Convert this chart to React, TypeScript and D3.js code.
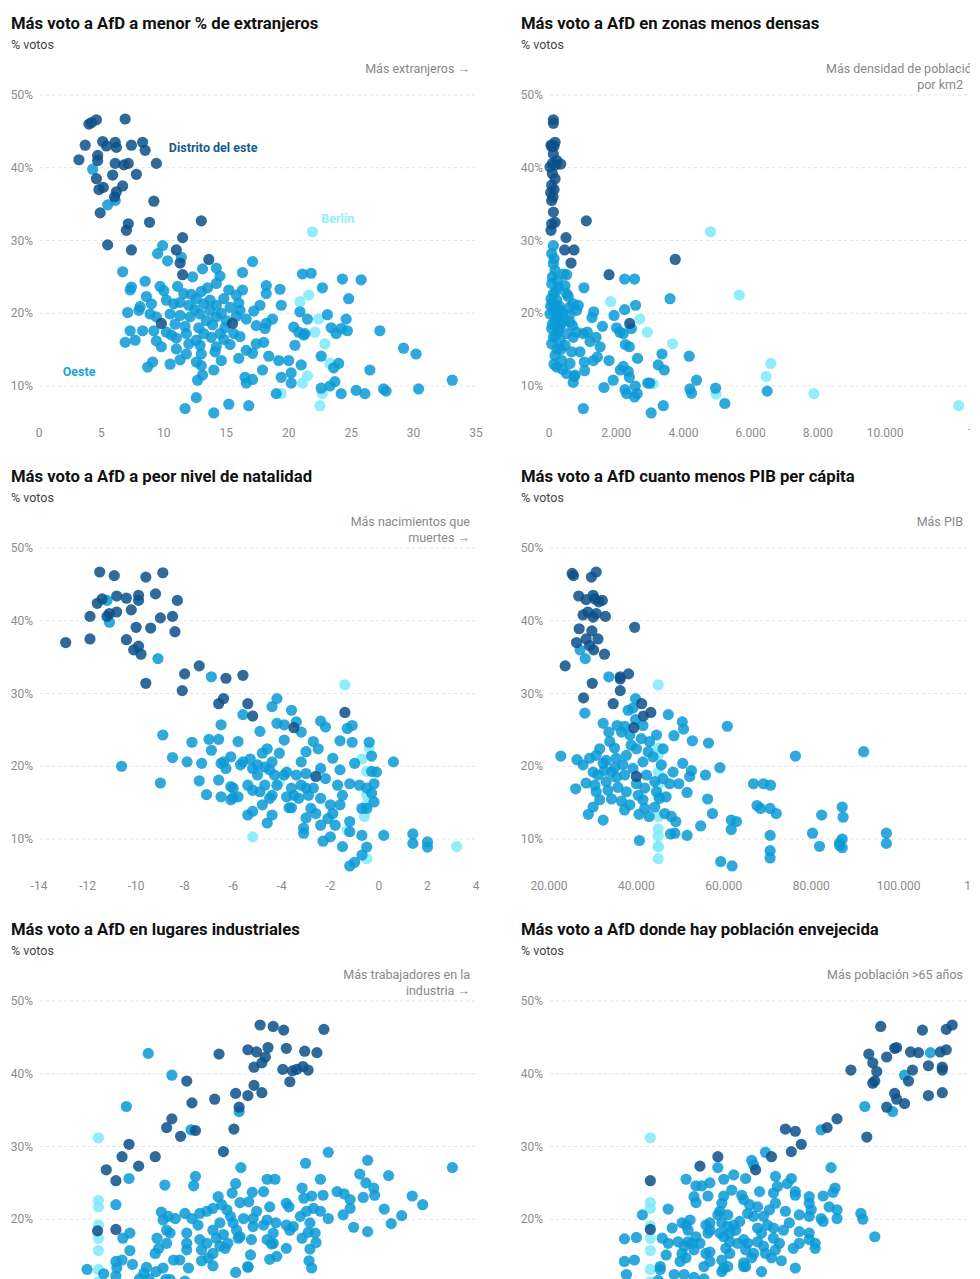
import React from "react";
import * as d3 from "d3";

// ---------- DATA ----------
const yTicks = [10, 20, 30, 40, 50];

const titles = [
  "Más voto a AfD a menor % de extranjeros",
  "Más voto a AfD en zonas menos densas",
  "Más voto a AfD a peor nivel de natalidad",
  "Más voto a AfD cuanto menos PIB per cápita",
  "Más voto a AfD en lugares industriales",
  "Más voto a AfD donde hay población envejecida",
];

const notes = [
  ["Más extranjeros →"],
  ["Más densidad de población", "por km2"],
  ["Más nacimientos que", "muertes →"],
  ["Más PIB"],
  ["Más trabajadores en la", "industria →"],
  ["Más población >65 años"],
];

const p1Ticks = [0, 5, 10, 15, 20, 25, 30, 35];
const p2Ticks = [0, 2000, 4000, 6000, 8000, 10000, 13000];
const p3Ticks = [-14, -12, -10, -8, -6, -4, -2, 0, 2, 4];
const p4Ticks = [20000, 40000, 60000, 80000, 100000, 120000];

// Panel 1: % extranjeros
const p1East = [[4.0,46.0],[4.2,46.2],[4.6,46.6],[6.9,46.7],[3.7,43.1],[3.2,41.1],[5.1,43.6],[5.4,43.0],[6.1,43.5],[6.2,42.8],[7.4,43.1],[8.3,43.5],[8.5,42.4],[4.7,41.7],[4.7,41.0],[6.1,40.6],[6.8,40.4],[7.15,40.6],[9.4,40.6],[4.6,38.5],[5.9,39.0],[7.8,39.1],[5.15,37.3],[4.8,37.0],[6.7,37.5],[6.2,36.7],[6.05,36.0],[9.2,35.4],[4.9,33.8],[7.15,32.3],[7.0,31.4],[8.85,32.5],[13.0,32.7],[5.5,29.4],[7.4,28.7],[11.5,30.4],[11.0,28.7],[11.3,26.9],[13.6,27.4],[11.5,25.3],[9.8,18.6],[15.5,18.6]];
const p1West = [[4.3,39.8],[5.5,34.9],[6.1,35.5],[6.7,25.7],[9.9,29.3],[9.5,28.2],[10.3,27.2],[11.4,27.7],[17.1,27.1],[8.5,24.4],[7.3,23.2],[7.4,23.6],[9.7,23.7],[10.0,23.1],[11.1,23.7],[8.6,22.3],[11.6,22.7],[12.3,25.0],[13.1,26.1],[14.2,26.2],[14.5,25.1],[14.2,24.1],[13.5,23.5],[15.2,23.2],[16.3,25.6],[16.3,23.2],[15.8,22.5],[18.2,23.8],[18.2,22.7],[19.3,23.3],[19.4,21.1],[17.7,21.1],[17.2,20.3],[16.0,21.4],[8.1,20.9],[8.0,20.4],[7.1,20.1],[9.0,21.3],[8.9,19.9],[9.4,19.5],[10.2,21.8],[10.8,21.3],[11.3,21.5],[12.0,21.1],[12.6,22.0],[13.2,21.3],[13.7,21.8],[14.2,21.1],[14.8,22.0],[15.3,20.8],[13.7,20.4],[12.9,19.9],[12.1,19.5],[11.3,19.7],[10.5,19.9],[14.2,19.5],[15.0,19.0],[16.1,20.4],[16.6,19.2],[17.4,18.3],[18.2,18.6],[18.7,19.2],[18.1,17.9],[7.3,17.6],[8.3,17.6],[7.7,16.3],[6.9,16.0],[9.2,17.6],[9.4,16.2],[9.8,15.4],[10.2,17.4],[10.6,17.0],[11.0,16.6],[11.0,15.1],[11.8,17.2],[12.0,15.8],[12.6,16.3],[13.2,17.2],[12.9,15.6],[13.8,16.7],[14.2,15.4],[14.5,17.2],[14.8,16.4],[15.6,17.2],[16.1,16.8],[15.3,15.7],[16.6,14.9],[17.4,15.8],[18.0,16.0],[11.8,14.4],[13.0,14.4],[14.1,14.7],[14.6,13.5],[16.0,13.8],[17.1,14.5],[12.6,13.3],[11.3,13.6],[10.5,13.0],[9.1,13.3],[8.7,12.6],[18.4,14.1],[19.2,13.5],[20.0,13.5],[17.9,12.2],[19.4,11.2],[20.2,11.8],[20.2,10.4],[21.0,12.9],[20.4,18.1],[20.8,17.4],[21.2,17.0],[20.5,15.6],[21.3,17.2],[20.9,20.2],[21.5,19.2],[21.1,25.4],[21.8,25.5],[22.7,23.5],[23.1,19.8],[23.4,18.0],[23.8,17.2],[24.2,17.9],[24.6,19.2],[24.7,17.6],[24.8,22.0],[24.3,24.7],[25.8,24.6],[27.3,17.6],[29.2,15.2],[30.2,14.4],[26.5,12.2],[22.6,14.1],[23.6,12.5],[24.0,13.1],[23.7,10.6],[23.3,10.0],[22.6,9.7],[24.2,8.95],[25.4,9.4],[26.1,8.95],[27.6,9.6],[27.8,9.3],[30.4,9.6],[33.1,10.8],[19.0,8.95],[16.6,10.4],[17.1,10.9],[15.2,7.5],[16.8,7.3],[14.0,6.3],[12.6,8.4],[11.7,6.9],[12.7,10.8],[13.1,11.5],[14.0,12.2],[16.5,11.2],[13.0,12.8],[12.5,20.5],[13.4,19.0],[14.6,20.0],[11.7,18.2],[12.8,18.0],[13.9,18.4],[10.9,18.5],[14.9,18.0],[15.8,19.6],[12.2,22.6],[13.0,23.0]];
const p1Berlin = [[21.9,31.2],[21.6,22.5],[20.9,21.6],[22.4,19.2],[22.1,17.4],[22.9,15.8],[23.3,13.1],[21.5,11.4],[21.1,10.4],[22.7,8.95],[22.5,7.3],[19.4,8.95]];

// Panel 2: densidad
const p2East = [[130,46.6],[130,46.1],[180,43.5],[80,42.9],[130,41.9],[230,41.0],[350,40.5],[30,40.1],[100,39.2],[180,38.5],[80,37.6],[50,36.6],[80,35.5],[130,33.9],[80,32.3],[60,31.4],[180,32.5],[1110,32.7],[505,30.4],[465,28.7],[745,28.7],[655,26.9],[1785,25.3],[3755,27.4],[2400,18.6],[150,43.0],[100,40.6],[200,40.4],[60,43.1],[120,36.0],[150,37.0]];
const p2West = [[130,29.3],[80,28.2],[130,26.8],[180,25.9],[430,25.4],[525,25.3],[1040,23.5],[80,24.1],[280,23.6],[475,23.8],[130,22.7],[525,22.7],[230,21.8],[575,22.3],[720,21.3],[870,21.1],[130,20.8],[330,20.4],[30,19.9],[625,19.9],[820,20.4],[180,19.0],[380,18.6],[625,18.8],[80,17.9],[280,17.6],[525,17.2],[820,17.4],[130,16.7],[330,16.3],[720,16.7],[1020,17.2],[80,15.8],[230,15.1],[475,15.6],[675,14.7],[180,14.2],[380,13.5],[625,13.1],[230,12.6],[920,14.7],[1050,13.3],[1320,13.5],[1440,14.0],[1220,16.1],[1400,16.7],[1520,15.4],[1140,17.4],[1330,20.2],[1280,19.4],[1590,18.2],[525,11.7],[775,11.5],[1060,12.1],[720,10.5],[745,11.3],[1020,6.9],[1635,9.8],[1910,10.8],[1785,13.5],[1935,19.7],[2250,24.7],[2545,24.7],[2250,20.5],[2575,21.1],[2010,18.0],[2110,17.4],[2210,17.2],[2450,17.9],[2270,15.7],[2390,15.4],[2635,13.8],[2120,12.2],[2210,12.7],[2360,12.0],[2390,11.2],[2260,9.5],[2310,8.95],[2565,10.0],[2545,8.5],[2625,8.95],[2935,10.4],[3040,6.3],[3250,12.9],[3360,14.4],[3430,12.2],[3400,7.3],[3600,22.0],[4170,14.1],[4190,9.6],[4240,9.0],[4390,10.8],[4955,9.7],[5230,7.6],[6490,9.3],[3000,10.4],[100,21.5],[200,23.0],[60,22.0],[150,20.2],[250,19.5],[100,18.5],[300,18.0],[400,20.0],[50,21.0],[200,17.0],[350,15.0],[150,27.5],[100,25.0],[250,24.5],[300,21.0],[450,19.0],[600,20.8],[700,18.3],[150,13.0],[400,12.3]];
const p2Berlin = [[4805,31.2],[5660,22.5],[1835,21.6],[2700,19.2],[2925,17.4],[3675,15.8],[3100,10.3],[6600,13.1],[6460,11.3],[4965,8.9],[7880,8.95],[12190,7.3]];

// Panel 3: natalidad
const p3East = [[-11.5,46.7],[-10.9,46.2],[-9.6,46.0],[-8.9,46.6],[-11.4,43.0],[-11.6,42.4],[-10.8,43.4],[-10.4,43.1],[-9.9,43.5],[-9.9,42.8],[-9.2,43.7],[-8.3,42.8],[-11.9,40.6],[-11.2,40.6],[-11.1,41.0],[-10.8,41.2],[-10.2,41.5],[-9.0,40.4],[-8.5,40.6],[-10.0,39.1],[-9.4,39.0],[-8.4,38.5],[-12.9,37.0],[-11.9,37.5],[-10.4,37.4],[-10.1,36.0],[-9.9,36.5],[-9.8,35.4],[-9.6,31.4],[-7.4,33.8],[-8.0,32.7],[-8.1,30.4],[-6.3,32.1],[-5.6,32.5],[-6.6,28.6],[-6.4,29.3],[-5.4,28.6],[-5.2,26.9],[-3.5,25.3],[-1.4,27.4],[-2.6,18.6]];
const p3West = [[-11.2,42.8],[-11.1,39.8],[-9.1,34.8],[-6.9,32.3],[-8.9,24.3],[-10.6,20.0],[-9.0,17.7],[-8.5,21.2],[-7.7,23.3],[-7.9,20.6],[-7.4,18.0],[-7.1,16.1],[-7.0,23.7],[-6.9,22.2],[-7.3,20.4],[-6.6,23.7],[-6.5,25.7],[-6.1,21.3],[-6.5,20.4],[-6.6,18.1],[-6.5,15.8],[-6.1,17.2],[-6.1,15.4],[-5.8,23.4],[-5.6,27.1],[-4.9,24.8],[-4.4,28.2],[-4.2,29.3],[-3.6,27.7],[-4.2,25.9],[-3.9,25.7],[-3.4,26.1],[-3.2,24.7],[-2.4,26.2],[-2.2,25.4],[-1.3,25.2],[-1.1,25.6],[-1.6,23.5],[-1.1,23.3],[-0.4,23.3],[-0.3,21.4],[0.6,20.6],[-0.1,19.2],[-0.3,19.3],[-0.2,17.6],[-0.2,15.1],[-0.5,14.2],[-0.7,14.2],[-0.7,10.5],[0.2,10.5],[1.4,10.7],[1.4,9.4],[2.0,9.6],[2.0,8.9],[-1.5,8.95],[-1.2,6.3],[-1.0,6.8],[-0.7,7.8],[-0.5,8.9],[-1.2,12.4],[-1.2,11.0],[-1.2,17.6],[-1.0,20.4],[-1.9,21.1],[-1.6,19.5],[-1.7,17.4],[-1.5,16.0],[-1.6,14.7],[-1.9,13.5],[-2.0,14.7],[-2.1,12.8],[-1.8,11.9],[-2.0,10.3],[-2.3,9.7],[-2.4,11.9],[-2.4,15.6],[-2.6,13.5],[-3.0,12.9],[-3.1,11.5],[-3.1,10.8],[-2.8,14.2],[-2.7,17.0],[-2.2,18.3],[-2.4,19.7],[-2.7,23.4],[-2.5,22.4],[-3.0,22.0],[-3.2,20.6],[-3.0,19.0],[-3.4,18.8],[-3.2,17.4],[-3.0,17.0],[-3.3,15.6],[-3.5,16.0],[-3.8,15.8],[-3.7,14.3],[-3.9,18.8],[-3.8,19.2],[-3.9,23.6],[-4.1,21.8],[-4.4,20.6],[-4.5,19.5],[-4.3,18.8],[-4.2,17.4],[-4.4,16.0],[-4.8,14.7],[-4.4,13.3],[-4.6,12.2],[-4.7,17.4],[-5.0,18.8],[-5.2,19.7],[-5.3,21.0],[-4.8,21.8],[-4.6,22.4],[-5.0,20.2],[-4.7,19.9],[-5.4,17.4],[-5.2,16.7],[-4.9,16.5],[-4.5,15.6],[-5.6,20.6],[-5.7,20.2],[-5.4,13.3],[-5.2,13.8],[-6.0,15.7],[-5.8,15.8],[-6.0,17.0],[-6.3,19.7],[-6.4,20.6],[-3.6,17.0],[-3.6,14.3],[-2.9,16.0],[-0.8,17.4],[-0.5,17.0],[-0.3,16.3]];
const p3Berlin = [[-1.4,31.2],[-5.2,10.3],[-0.5,7.3],[3.2,8.95],[-0.6,13.1],[-0.5,14.7],[-0.5,19.3],[-0.4,22.5],[-1.3,11.2],[-4.1,17.8],[-0.5,16.0],[-0.7,21.0]];

// Panel 4: PIB per cápita
const p4East = [[25300,46.5],[25600,46.2],[29700,46.0],[30800,46.7],[26800,43.4],[28500,42.9],[30100,43.5],[30500,43.0],[31400,42.6],[32200,42.8],[27800,40.8],[28900,41.2],[30100,40.5],[30800,41.0],[32900,40.6],[26900,38.9],[29800,38.6],[39600,39.1],[28500,37.5],[31200,37.5],[29300,36.6],[30200,36.0],[26300,37.0],[32700,35.4],[23700,33.8],[36300,32.3],[36300,32.0],[38200,32.7],[29900,31.4],[27900,29.4],[36300,30.4],[34700,28.6],[41200,28.6],[41600,26.9],[43300,27.4],[39400,25.3],[40000,18.6]];
const p4West = [[27100,36.0],[28300,34.8],[33700,32.3],[39800,29.3],[39200,28.0],[38100,27.7],[28200,27.3],[32400,25.9],[33700,24.7],[35600,25.6],[37300,25.5],[39800,26.4],[41500,25.6],[44600,24.3],[47300,27.1],[50500,26.1],[50800,25.1],[48600,24.2],[52800,23.5],[56500,23.2],[60800,25.5],[59100,19.8],[55800,18.8],[56300,15.5],[57400,13.5],[54700,11.8],[51600,10.5],[51600,16.4],[52200,18.6],[52600,19.4],[50600,20.4],[49700,17.6],[48400,19.2],[45700,20.2],[46100,22.4],[46100,18.3],[47600,17.6],[46800,15.8],[48000,13.1],[49000,12.4],[46500,13.5],[48800,10.8],[47800,10.7],[44200,14.4],[41900,14.2],[40600,13.4],[42900,13.1],[40700,9.8],[59300,6.9],[61900,6.3],[61700,12.6],[62900,12.4],[61700,11.3],[66800,17.6],[69100,17.6],[70700,17.4],[67600,14.6],[68400,14.2],[70600,14.2],[72000,13.5],[70600,10.5],[70600,8.4],[70600,7.4],[76400,21.4],[92000,22.0],[80300,10.8],[81900,9.0],[82400,13.3],[87100,14.4],[87300,13.0],[87100,10.0],[86500,9.5],[86500,9.1],[87100,8.8],[97200,10.8],[97200,9.4],[22700,21.4],[26100,16.9],[26400,20.9],[27800,20.2],[28500,17.7],[29000,13.4],[30100,14.4],[32400,12.6],[29300,21.1],[30800,21.5],[31600,22.4],[30100,19.2],[31200,18.8],[30500,17.4],[30800,16.5],[31600,15.4],[33100,20.8],[32700,19.4],[33100,17.9],[33500,16.7],[34300,15.5],[33900,23.4],[35000,22.5],[35400,21.1],[35000,19.8],[35400,18.5],[35800,17.1],[36600,15.2],[37300,14.0],[38500,14.7],[37700,16.5],[37300,18.8],[36900,20.2],[37700,21.5],[38800,22.9],[40000,22.4],[39200,19.7],[40000,17.6],[40400,16.0],[41500,15.4],[41900,17.0],[42300,18.8],[41500,20.6],[42700,22.0],[43000,23.4],[43800,21.3],[44200,17.9],[44600,16.5],[45300,15.6],[41100,23.8],[36600,24.7],[38500,24.3],[32400,20.4],[34300,19.2]];
const p4Berlin = [[45000,31.2],[45000,22.5],[45000,21.6],[45000,19.2],[45000,17.4],[45000,15.8],[45000,13.1],[45000,11.4],[45000,10.4],[45000,8.95],[45000,7.3],[45000,8.95]];

// Panel 5: trabajadores en la industria (%)
const p5East = [[25.3,46.7],[26.8,46.5],[28.0,46.0],[32.6,46.1],[20.6,42.7],[23.9,43.3],[24.9,43.0],[26.2,43.6],[25.9,42.3],[25.5,41.5],[24.6,40.9],[28.3,43.5],[30.4,43.1],[31.8,42.9],[27.9,40.6],[29.0,40.4],[29.5,40.6],[30.2,41.0],[30.8,40.5],[28.7,38.9],[16.9,39.0],[24.6,38.4],[25.5,37.4],[22.5,37.3],[23.9,37.0],[20.1,36.5],[17.5,36.0],[22.9,35.4],[15.2,33.8],[14.6,32.6],[17.9,32.2],[16.2,31.4],[22.3,32.4],[21.1,29.3],[10.3,30.3],[9.5,28.6],[13.3,28.6],[11.4,27.3],[7.7,26.8],[8.8,25.3],[6.7,18.4],[8.8,18.6]];
const p5West = [[12.5,42.8],[15.2,39.8],[10.0,35.5],[22.9,34.8],[17.4,32.3],[10.3,25.6],[8.8,22.0],[14.4,24.7],[17.9,25.9],[17.7,24.6],[23.1,27.1],[22.5,24.9],[22.1,23.6],[23.0,22.3],[24.0,22.4],[24.4,23.7],[25.7,23.8],[26.1,25.5],[27.0,25.5],[30.5,27.7],[33.1,29.2],[30.1,24.3],[30.3,22.9],[31.2,23.2],[32.2,25.5],[32.5,23.3],[34.1,23.8],[34.9,23.5],[36.7,26.2],[37.4,25.0],[37.6,28.1],[38.3,24.3],[38.4,23.3],[40.0,26.0],[37.1,23.0],[35.6,22.7],[35.6,21.5],[34.8,20.6],[36.0,18.9],[37.6,18.3],[39.5,21.4],[40.3,19.4],[41.5,20.5],[42.7,23.2],[43.9,22.0],[47.3,27.1],[33.1,20.1],[32.2,21.1],[31.4,21.5],[30.6,21.1],[29.9,20.4],[31.0,19.5],[31.6,18.1],[30.8,18.2],[30.1,17.4],[31.7,16.8],[31.0,15.9],[30.9,14.3],[31.2,13.3],[28.3,16.0],[28.7,18.5],[28.3,19.2],[29.1,19.0],[28.3,22.2],[28.6,21.7],[27.1,19.5],[26.8,18.1],[27.2,14.9],[26.4,14.5],[26.8,16.7],[26.1,17.2],[25.7,19.2],[26.1,19.9],[24.9,21.1],[26.4,21.7],[24.5,19.0],[24.3,17.2],[24.2,15.1],[23.9,13.5],[23.0,17.6],[23.4,20.1],[22.2,19.5],[22.6,18.5],[21.9,20.4],[21.5,21.3],[20.9,22.0],[19.9,21.5],[19.2,21.1],[20.5,23.1],[20.7,19.5],[19.9,18.5],[20.3,17.4],[21.1,17.9],[20.7,16.3],[21.3,16.0],[19.9,15.3],[19.2,16.7],[18.4,17.2],[18.6,15.8],[18.2,19.2],[18.4,20.8],[17.5,20.1],[16.7,20.8],[16.9,18.1],[16.9,16.7],[16.9,15.8],[17.1,13.3],[18.6,14.3],[19.4,14.7],[19.9,13.6],[16.1,14.4],[15.4,14.4],[14.6,16.7],[15.0,18.1],[14.6,18.5],[14.2,19.9],[14.0,21.0],[14.8,20.4],[15.6,20.1],[13.5,17.4],[13.3,15.3],[13.7,16.0],[14.2,13.3],[13.4,12.8],[12.3,13.4],[12.0,12.6],[10.4,18.1],[9.6,17.4],[10.4,15.7],[10.7,13.8],[8.8,14.2],[8.9,13.3],[9.5,14.4],[5.5,13.1],[7.4,12.5],[8.8,12.2],[22.5,12.7],[23.9,13.4],[22.8,17.4],[24.5,20.1],[21.6,16.7],[26.6,16.6],[11.5,11.8],[12.6,11.8],[14.5,11.7],[15.0,11.7],[16.7,11.5]];
const p5Berlin = [[6.8,31.2],[6.8,22.6],[6.8,21.7],[6.8,19.2],[6.8,17.4],[6.8,15.7],[6.8,13.1],[6.8,11.4],[6.8,10.4],[6.8,8.95],[6.8,7.3],[6.8,8.95]];

// Panel 6: población >65 años (%)
const p6East = [[28.7,46.5],[30.8,46.0],[32.0,46.1],[32.3,46.7],[28.1,42.7],[28.3,41.5],[28.5,40.3],[29.0,42.3],[29.4,43.5],[29.5,43.6],[30.2,43.0],[30.6,42.9],[31.7,43.0],[32.0,43.3],[27.2,40.5],[30.3,40.5],[31.1,41.1],[31.8,40.9],[31.8,40.5],[28.3,38.7],[28.4,39.0],[30.1,39.0],[29.4,37.3],[29.5,36.5],[29.9,35.9],[29.0,35.4],[31.1,37.0],[31.8,37.4],[28.0,31.3],[26.5,33.8],[26.0,32.6],[23.9,32.4],[24.4,32.1],[24.7,30.3],[24.2,29.3],[23.2,28.6],[20.5,28.6],[19.6,27.3],[22.4,26.8],[17.1,25.3],[17.1,18.6]];
const p6West = [[31.2,42.9],[29.9,39.8],[27.9,35.5],[29.3,34.8],[25.7,32.3],[22.9,29.2],[22.2,28.1],[22.3,27.5],[20.5,27.1],[26.2,27.1],[18.9,25.5],[20.1,25.0],[20.8,25.5],[21.3,26.1],[21.9,25.6],[23.4,25.9],[24.2,25.6],[24.0,24.9],[23.5,24.5],[22.6,23.8],[23.3,23.6],[24.4,23.8],[24.4,23.3],[25.1,23.1],[25.8,23.2],[26.4,24.3],[26.3,23.7],[26.1,21.7],[26.5,21.3],[26.5,20.1],[27.7,20.8],[27.8,20.0],[28.4,17.6],[25.1,22.2],[25.2,21.3],[25.7,20.1],[25.8,19.7],[25.1,20.4],[24.6,20.6],[24.6,18.3],[25.1,18.1],[25.1,17.2],[25.4,16.0],[24.3,16.0],[24.4,13.3],[23.7,14.3],[23.2,14.7],[23.6,16.7],[23.3,17.4],[23.8,18.5],[24.1,19.5],[23.9,21.1],[23.4,22.2],[23.1,21.3],[22.8,20.4],[23.0,19.2],[23.3,18.8],[22.7,18.1],[22.5,16.9],[22.8,16.3],[22.9,15.3],[22.3,15.3],[22.0,16.7],[22.5,18.8],[22.3,20.4],[22.5,21.7],[22.1,22.0],[21.8,22.7],[22.0,20.8],[21.6,19.7],[21.4,18.5],[21.8,17.2],[21.5,16.7],[21.9,15.8],[22.2,14.7],[21.8,14.0],[21.9,13.5],[21.1,15.3],[20.9,16.0],[21.1,16.9],[20.8,17.6],[21.1,18.1],[21.3,19.2],[21.0,20.6],[20.6,21.1],[20.7,22.2],[20.8,23.2],[21.2,24.0],[21.7,23.3],[20.5,20.6],[20.7,19.5],[20.6,18.1],[21.0,19.0],[20.1,18.5],[20.1,19.5],[19.9,19.2],[20.0,18.1],[19.4,17.6],[19.6,16.7],[19.3,15.8],[19.9,15.3],[20.1,15.5],[19.2,16.7],[19.0,16.9],[18.8,16.3],[18.7,15.3],[18.9,14.7],[18.6,14.2],[19.0,18.5],[18.9,19.2],[18.7,19.5],[19.1,19.9],[19.3,23.1],[19.4,22.3],[20.0,23.2],[19.7,24.6],[19.4,24.6],[18.2,18.8],[18.0,21.4],[18.5,16.9],[18.0,16.7],[17.7,17.4],[17.9,15.1],[17.6,13.5],[17.6,13.1],[18.3,12.4],[18.8,12.4],[19.3,12.0],[19.8,13.5],[20.1,14.2],[20.7,14.4],[20.8,13.3],[21.0,13.5],[20.7,12.8],[21.8,13.5],[22.7,12.8],[16.7,20.6],[16.4,17.5],[15.8,17.3],[15.8,14.2],[16.3,14.4],[15.9,12.4],[23.4,15.8],[24.6,16.7],[25.4,16.7],[19.8,11.8],[17.5,11.6]];
const p6Berlin = [[17.1,31.2],[17.1,22.3],[17.1,21.5],[17.1,19.1],[17.1,17.4],[17.1,15.7],[17.1,13.1],[17.1,11.4],[17.1,10.4],[17.1,8.95],[17.1,7.3],[17.1,8.95]];

// group labels (panel 1), positioned in data units
const groupLabels = [
  { text: "Distrito del este", x: 10.4, y: 42.2, color: "#185a8d" },
  { text: "Berlín", x: 22.6, y: 32.4, color: "#93eefb" },
  { text: "Oeste", x: 1.9, y: 11.4, color: "#1aa2da" },
];

// ---------- STYLE ----------
const COL_EAST = "#0c5088";
const COL_WEST = "#0a9ad6";
const COL_BERLIN = "#7eeafa";

const loc = d3.formatLocale({ decimal: ",", thousands: ".", grouping: [3], currency: ["", " €"], minus: "-" });
const fmtThousands = loc.format(",.0f");
const fmtPlain = loc.format("d");

const panels = [
  { title: titles[0], note: notes[0], col: 0, row: 0, xDomain: [0, 35], ticks: p1Ticks, fmt: fmtPlain, east: p1East, west: p1West, berlin: p1Berlin, labels: groupLabels },
  { title: titles[1], note: notes[1], col: 1, row: 0, xDomain: [0, 13000], ticks: p2Ticks, fmt: fmtThousands, east: p2East, west: p2West, berlin: p2Berlin, firstNoteStart: 826 },
  { title: titles[2], note: notes[2], col: 0, row: 1, xDomain: [-14, 4], ticks: p3Ticks, fmt: fmtPlain, east: p3East, west: p3West, berlin: p3Berlin },
  { title: titles[3], note: notes[3], col: 1, row: 1, xDomain: [20000, 120000], ticks: p4Ticks, fmt: fmtThousands, east: p4East, west: p4West, berlin: p4Berlin },
  { title: titles[4], note: notes[4], col: 0, row: 2, xDomain: [0, 50], ticks: [], fmt: fmtPlain, east: p5East, west: p5West, berlin: p5Berlin },
  { title: titles[5], note: notes[5], col: 1, row: 2, xDomain: [12, 34], ticks: [], fmt: fmtPlain, east: p6East, west: p6West, berlin: p6Berlin },
];

function Panel({ p }: { p: any }) {
  const left = p.col === 0 ? 0 : 510;
  const oy = p.row * 453;
  const x0 = 39 + left;
  const xs = d3.scaleLinear().domain(p.xDomain).range([x0, x0 + 437]);
  const ys = d3.scaleLinear().domain([5, 50]).range([oy + 422.4, oy + 95]);
  const noteX = p.col === 0 ? 470 : 963;
  const dot = (d: number[], i: number, fill: string) => (
    <circle key={i} cx={xs(d[0])} cy={ys(d[1])} r={5.6} fill={fill} fillOpacity={0.85} />
  );
  return (
    <g>
      <text x={11 + left} y={oy + 29} fontSize={16.7} fontWeight={700} fill="#111">{p.title}</text>
      <text x={11 + left} y={oy + 49} fontSize={12.5} fill="#444">% votos</text>
      {p.note.map((t: string, i: number) => {
        const start = i === 0 && p.firstNoteStart;
        return (
          <text key={i} x={start ? p.firstNoteStart : noteX} y={oy + 73 + i * 15.5} fontSize={12.5} fill="#888" textAnchor={start ? "start" : "end"}>{t}</text>
        );
      })}
      {yTicks.map((t) => (
        <g key={t}>
          <line x1={x0 + 1} x2={x0 + 438} y1={ys(t)} y2={ys(t)} stroke="#e3e3e3" strokeDasharray="3,3" />
          <text x={x0 - 6} y={ys(t)} dy="0.35em" fontSize={12} fill="#8c8c8c" textAnchor="end">{t + "%"}</text>
        </g>
      ))}
      {p.ticks.map((t: number) => (
        <text key={t} x={xs(t)} y={oy + 433} dy="0.35em" fontSize={12} fill="#8c8c8c" textAnchor="middle">{p.fmt(t)}</text>
      ))}
      <g>{p.berlin.map((d: number[], i: number) => dot(d, i, COL_BERLIN))}</g>
      <g>{p.west.map((d: number[], i: number) => dot(d, i, COL_WEST))}</g>
      <g>{p.east.map((d: number[], i: number) => dot(d, i, COL_EAST))}</g>
      {(p.labels || []).map((l: any) => (
        <text key={l.text} x={xs(l.x)} y={ys(l.y)} fontSize={12.5} fontWeight={700} fill={l.color}>{l.text}</text>
      ))}
    </g>
  );
}

export default function App() {
  return (
    <svg width={970} height={1279} style={{ position: "absolute", left: 0, top: 0, fontFamily: "Roboto, sans-serif", background: "#fff" }}>
      <rect x={0} y={0} width={970} height={1279} fill="#fff" />
      {panels.map((p, i) => (
        <Panel key={i} p={p} />
      ))}
    </svg>
  );
}
